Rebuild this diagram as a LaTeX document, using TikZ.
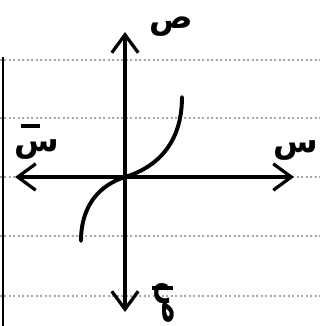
\documentclass[tikz,border=0pt]{standalone}
\usepackage{fontspec}
\newfontfamily\arabicfont[Script=Arabic]{DejaVu Sans}
\TeXXeTstate=1
\usetikzlibrary{arrows.meta}
\begin{document}
\begin{tikzpicture}[x=0.025cm,y=-0.025cm,
  axis/.style={line width=2.3pt,-{Straight Barb[length=0.45cm,width=0.66cm,line width=2.3pt]}},
  ruled/.style={gray!70,line width=1.2pt,dotted},
  curve/.style={line width=2.8pt,line cap=round},
  lab/.style={font=\arabicfont\bfseries\fontsize{23}{25}\selectfont,inner sep=0pt}]
\useasboundingbox[fill=white] (0,0) rectangle (320,326);
% notebook lines
\foreach \yy in {60,118,177,236,296}{\draw[ruled] (0,\yy) -- (320,\yy);}
\draw[line width=2pt] (3,57) -- (3,326);
% axes
\coordinate (O) at (125,177);
\coordinate (T) at (125,32);
\coordinate (B) at (125,312);
\coordinate (L) at (15,177);
\coordinate (R) at (294,177);
\draw[axis] (O) -- (T);
\draw[axis] (O) -- (B);
\draw[axis] (O) -- (L);
\draw[axis] (O) -- (R);
% curve
\coordinate (c1) at (81,241);
\coordinate (c2) at (182,97);
\draw[curve] (c1) .. controls (81,205) and (100,185) .. (O) .. controls (155,168) and (182,145) .. (c2);
% labels
\node[lab] (ytop) at (171,27) {\beginR ص\endR};
\node[lab] (xright) at (296,151) {\beginR س\endR};
\node[lab] (xleft) at (37,150) {\beginR س\endR};
\draw[line width=2.4pt] (21,126) -- (40,126);
\node[lab,rotate=-90] (ybot) at (164,303) {\beginR ص\endR};
\draw[line width=2.4pt] (152,288) -- (173,288);
\end{tikzpicture}
\end{document}
